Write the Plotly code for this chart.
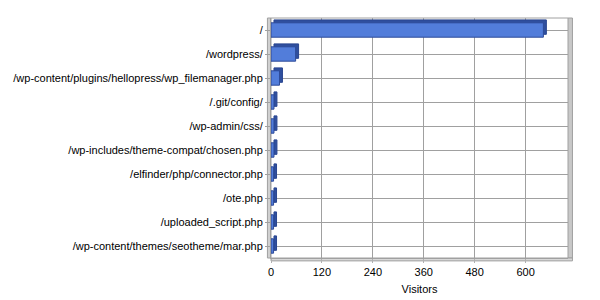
import plotly.graph_objects as go

pages = ["/", "/wordpress/", "/wp-content/plugins/hellopress/wp_filemanager.php",
         "/.git/config/", "/wp-admin/css/", "/wp-includes/theme-compat/chosen.php",
         "/elfinder/php/connector.php", "/ote.php", "/uploaded_script.php",
         "/wp-content/themes/seotheme/mar.php"]
visitors = [642, 58, 20, 7, 7, 7, 6, 6, 6, 6]
x_ticks = [0, 120, 240, 360, 480, 600]

depth_units = 7  # depth effect in axis units (~3 px)
fig = go.Figure()
# depth (3D side) trace
fig.add_trace(go.Bar(
    y=pages, x=visitors, base=[depth_units] * len(pages), orientation="h",
    width=0.6, offset=-0.3 - 0.12,
    marker=dict(color="#2F4F9E", line=dict(color="#2A4690", width=1)),
    hoverinfo="skip", showlegend=False))
fig.add_trace(go.Bar(
    y=pages, x=visitors, orientation="h", width=0.6, offset=-0.3,
    marker=dict(color="#527DDA", line=dict(color="#2E4B98", width=1)),
    hoverinfo="skip", showlegend=False))

fig.update_layout(
    width=600, height=300, barmode="overlay",
    margin=dict(l=271, r=32, t=18, b=42),
    paper_bgcolor="white", plot_bgcolor="white",
    font=dict(family="Liberation Sans, Arial, sans-serif", size=11, color="black"),
    xaxis=dict(range=[0, 700], tickvals=x_ticks, showgrid=True, gridcolor="#A0A0A0",
               gridwidth=1, zeroline=False, showline=True, linecolor="#A0A0A0",
               ticks="outside", ticklen=4, tickcolor="#B0B0B0", automargin=False,
               title=dict(text="Visitors", font=dict(size=11), standoff=8)),
    yaxis=dict(categoryorder="array", categoryarray=pages, autorange="reversed",
               showgrid=True, gridcolor="#A0A0A0", showline=True, linecolor="#A0A0A0",
               ticks="outside", ticklen=5, tickcolor="#A0A0A0",
               automargin=False),
    shapes=[
        # right wall
        dict(type="rect", xref="paper", yref="paper", x0=1.0, x1=1.015, y0=0.0, y1=1.0,
             fillcolor="#C8C8C8", line=dict(color="#A0A0A0", width=1), layer="below"),
        # top border
        dict(type="line", xref="paper", yref="paper", x0=0, x1=1.0, y0=1, y1=1,
             line=dict(color="#A0A0A0", width=1)),
        # left wall
        dict(type="rect", xref="paper", yref="paper", x0=-0.012, x1=0.0, y0=0.0, y1=1.0,
             fillcolor="#D0D0D0", line=dict(color="#A0A0A0", width=1), layer="below"),
        # floor
        dict(type="rect", xref="paper", yref="paper", x0=0.0, x1=1.015, y0=-0.012, y1=0.0,
             fillcolor="#D8D8D8", line=dict(color="#A0A0A0", width=1), layer="below"),
    ],
)
fig.write_html("out.html")
